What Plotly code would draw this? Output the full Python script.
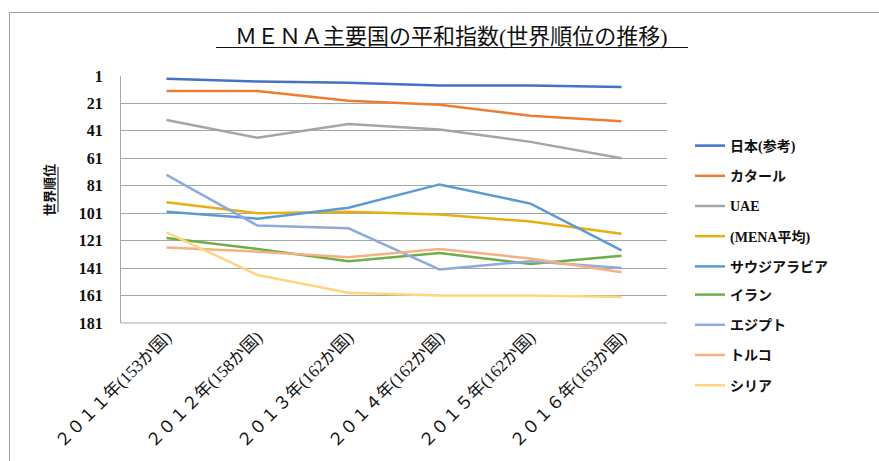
import plotly.graph_objects as go

years = ["２０１１年(153か国)", "２０１２年(158か国)", "２０１３年(162か国)",
         "２０１４年(162か国)", "２０１５年(162か国)", "２０１６年(163か国)"]

japan = [3, 5, 6, 8, 8, 9]
qatar = [12, 12, 19, 22, 30, 34]
uae = [33, 46, 36, 40, 49, 61]
mena = [93, 101, 100, 102, 107, 116]
saudi = [100, 105, 97, 80, 94, 128]
iran = [119, 127, 136, 130, 138, 132]
egypt = [73, 110, 112, 142, 136, 141]
turkey = [126, 129, 133, 127, 134, 144]
syria = [115, 146, 159, 161, 161, 162]

series_names = ["日本(参考)", "カタール", "UAE", "(MENA平均)", "サウジアラビア",
                "イラン", "エジプト", "トルコ", "シリア"]
series_values = [japan, qatar, uae, mena, saudi, iran, egypt, turkey, syria]
colors = ["#4472C4", "#ED7D31", "#A5A5A5", "#E8B00F", "#5B9BD5",
          "#70AD47", "#8FAADC", "#F4B183", "#FFD580"]

y_ticks = [1, 21, 41, 61, 81, 101, 121, 141, 161, 181]

SERIF = "Liberation Serif, Noto Sans CJK JP, serif"

W, H = 879, 461
L, R, T, B = 121, 212, 76, 138
pw = W - L - R
ph = H - T - B


def px_x(x):
    return (x - L) / pw


def px_y(y):
    return (H - B - y) / ph


fig = go.Figure()
for i, (name, vals, col) in enumerate(zip(series_names, series_values, colors)):
    fig.add_trace(go.Scatter(
        x=years, y=vals, name=name, mode="lines",
        line=dict(color=col, width=2.5),
        legendgroup=f"g{i}",
        legend="legend" if i < 5 else "legend2",
    ))

legend_common = dict(
    xanchor="left", yanchor="top",
    font=dict(family=SERIF, size=14, color="#111111", weight="bold"),
    tracegroupgap=9, traceorder="grouped",
    bgcolor="rgba(0,0,0,0)",
)

fig.update_layout(
    width=W, height=H,
    margin=dict(l=L, r=R, t=T, b=B, autoexpand=False),
    paper_bgcolor="white", plot_bgcolor="white",
    showlegend=True,
    legend=dict(x=px_x(690), y=px_y(130), **legend_common),
    legend2=dict(x=px_x(690), y=px_y(130 + 5 * 29.8), **legend_common),
    xaxis=dict(
        type="category", tickangle=-45, showgrid=False,
        showline=False, ticks="", automargin=False,
        tickfont=dict(family=SERIF, size=17, color="#111111"),
        range=[-0.5, 5.5],
    ),
    yaxis=dict(
        autorange=False, range=[181, 1], automargin=False,
        tickvals=y_ticks, ticktext=[str(v) for v in y_ticks],
        showgrid=True, gridcolor="#A6A6A6", gridwidth=1,
        showline=True, linecolor="#A6A6A6", linewidth=1,
        zeroline=False, ticks="",
        ticklabelstandoff=14,
        tickfont=dict(family=SERIF, size=16, color="#111111", weight="bold"),
    ),
    annotations=[
        dict(text="ＭＥＮＡ主要国の平和指数(世界順位の推移)",
             xref="paper", yref="paper", x=px_x(451), y=px_y(36),
             xanchor="center", yanchor="middle", showarrow=False,
             font=dict(family=SERIF, size=22, color="#111111")),
        dict(text="世界順位", textangle=-90,
             xref="paper", yref="paper", x=px_x(49), y=px_y(190),
             xanchor="center", yanchor="middle", showarrow=False,
             font=dict(family=SERIF, size=13, color="#111111", weight="bold")),
    ],
    shapes=[
        dict(type="line", xref="paper", yref="paper",
             x0=px_x(216), x1=px_x(688), y0=px_y(47.5), y1=px_y(47.5),
             line=dict(color="#111111", width=1)),
        dict(type="line", xref="paper", yref="paper",
             x0=px_x(58), x1=px_x(58), y0=px_y(167), y1=px_y(212),
             line=dict(color="#111111", width=1)),
        dict(type="rect", xref="paper", yref="paper",
             x0=px_x(9.5), x1=px_x(950), y0=px_y(520), y1=px_y(12.5),
             line=dict(color="#A0A0A0", width=1), layer="below"),
        dict(type="line", xref="paper", yref="paper",
             x0=0, x1=1, y0=0, y1=0,
             line=dict(color="#A6A6A6", width=1)),
    ],
)

fig.write_html("out.html")
